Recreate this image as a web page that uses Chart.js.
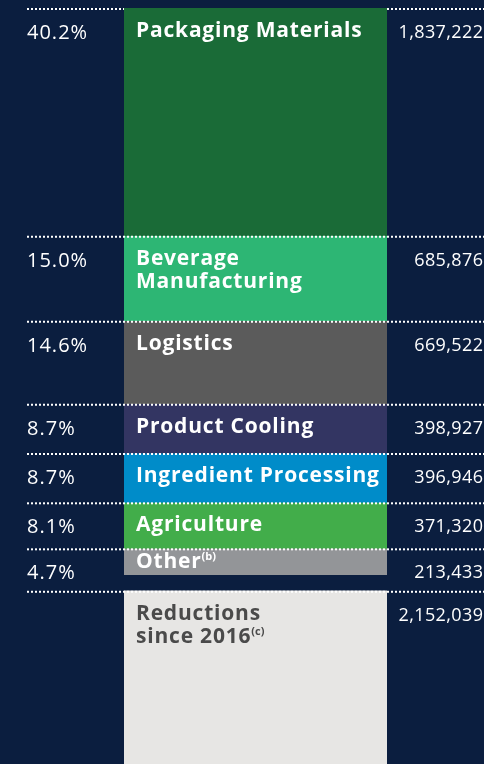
<!DOCTYPE html>
<html>
<head>
<meta charset="utf-8">
<script src="https://cdn.jsdelivr.net/npm/chart.js@4.4.1/dist/chart.umd.min.js"></script>
<style>
  html, body { margin: 0; padding: 0; background: #0b1e3f; }
  #wrap { width: 484px; height: 764px; position: relative; }
</style>
</head>
<body>
<div id="wrap"><canvas id="emissions-chart"></canvas></div>
<script>
// emission sources, top to bottom
const categories = [
  ["Packaging Materials"],
  ["Beverage", "Manufacturing"],
  ["Logistics"],
  ["Product Cooling"],
  ["Ingredient Processing"],
  ["Agriculture"],
  ["Other"],
  ["Reductions", "since 2016"],
];
const footnotes = ["", "", "", "", "", "", "(b)", "(c)"];
const values = [1837222, 685876, 669522, 398927, 396946, 371320, 213433, 2152039];
const shareLabels = ["40.2%", "15.0%", "14.6%", "8.7%", "8.7%", "8.1%", "4.7%", ""];
const colors = ["#1a6b37", "#2db674", "#5b5b5b", "#333562", "#008cc9", "#42ad4a", "#939598", "#e7e6e4"];
const textColors = ["#fff", "#fff", "#fff", "#fff", "#fff", "#fff", "#fff", "#4a4a4a"];

const BG = "#0b1e3f";

document.addEventListener("DOMContentLoaded", function () {
  const ctx = document.getElementById("emissions-chart");

  // labels, values and dotted separators drawn next to each stacked segment
  const rowLabels = {
    id: "rowLabels",
    afterDatasetsDraw(chart) {
      const c = chart.ctx;
      const area = chart.chartArea;
      c.save();
      chart.data.datasets.forEach((ds, i) => {
        const bar = chart.getDatasetMeta(i).data[0];
        let top = Math.min(bar.y, bar.base);
        const bottom = Math.max(bar.y, bar.base);
        if (i === values.length - 1) top += 16;

        // dotted line
        c.strokeStyle = "#ffffff";
        c.lineWidth = 2;
        c.setLineDash([2, 2]);
        c.beginPath();
        const ly = top + 1;
        if (i === 0) {
          c.moveTo(27, ly); c.lineTo(area.left, ly);
          c.moveTo(area.right, ly); c.lineTo(484, ly);
        } else {
          c.moveTo(27, ly); c.lineTo(484, ly);
        }
        c.stroke();
        c.setLineDash([]);

        c.textBaseline = "alphabetic";

        // share on the left
        c.fillStyle = "#ffffff";
        c.textAlign = "left";
        c.font = "400 20px 'Open Sans'";
        c.letterSpacing = "1px";
        c.fillText(shareLabels[i], 27, top + 31);

        // value on the right
        c.textAlign = "right";
        c.font = "400 18px 'Open Sans'";
        c.letterSpacing = "0.4px";
        c.fillText(values[i].toLocaleString("en-US"), 483.4, top + 30);

        // category name inside the bar
        c.textAlign = "left";
        c.fillStyle = textColors[i];
        const lines = categories[i];
        const base = lines.length > 1 ? top + 29 : Math.min(top + 29, bottom - 7);
        lines.forEach((line, k) => {
          const y = base + k * 23;
          c.font = "700 21px 'Open Sans'";
          c.letterSpacing = "0.8px";
          c.fillText(line, area.left + 12, y);
          if (k === lines.length - 1 && footnotes[i]) {
            const w = c.measureText(line).width;
            c.font = "700 11px 'Open Sans'";
            c.letterSpacing = "0px";
            c.fillText(footnotes[i], area.left + 12 + w, y - 8);
          }
        });
      });
      c.restore();
    },
  };

  new Chart(ctx, {
    type: "bar",
    data: {
      labels: ["Emissions"],
      datasets: values.map((v, i) => ({
        label: categories[i].join(" "),
        data: [v],
        backgroundColor: colors[i],
        borderColor: BG,
        borderWidth: i === values.length - 1 ? { top: 16, left: 0, right: 0, bottom: 0 } : 0,
        borderSkipped: false,
        barPercentage: 1,
        categoryPercentage: 1,
      })),
    },
    options: {
      responsive: true,
      maintainAspectRatio: false,
      animation: false,
      layout: { padding: { left: 124, right: 97, top: 8, bottom: 0 } },
      plugins: { legend: { display: false }, tooltip: { enabled: false } },
      scales: {
        x: { stacked: true, display: false },
        y: { stacked: true, display: false, reverse: true, min: 0, max: 6100000 },
      },
    },
    plugins: [rowLabels],
  });
});
</script>
</body>
</html>
